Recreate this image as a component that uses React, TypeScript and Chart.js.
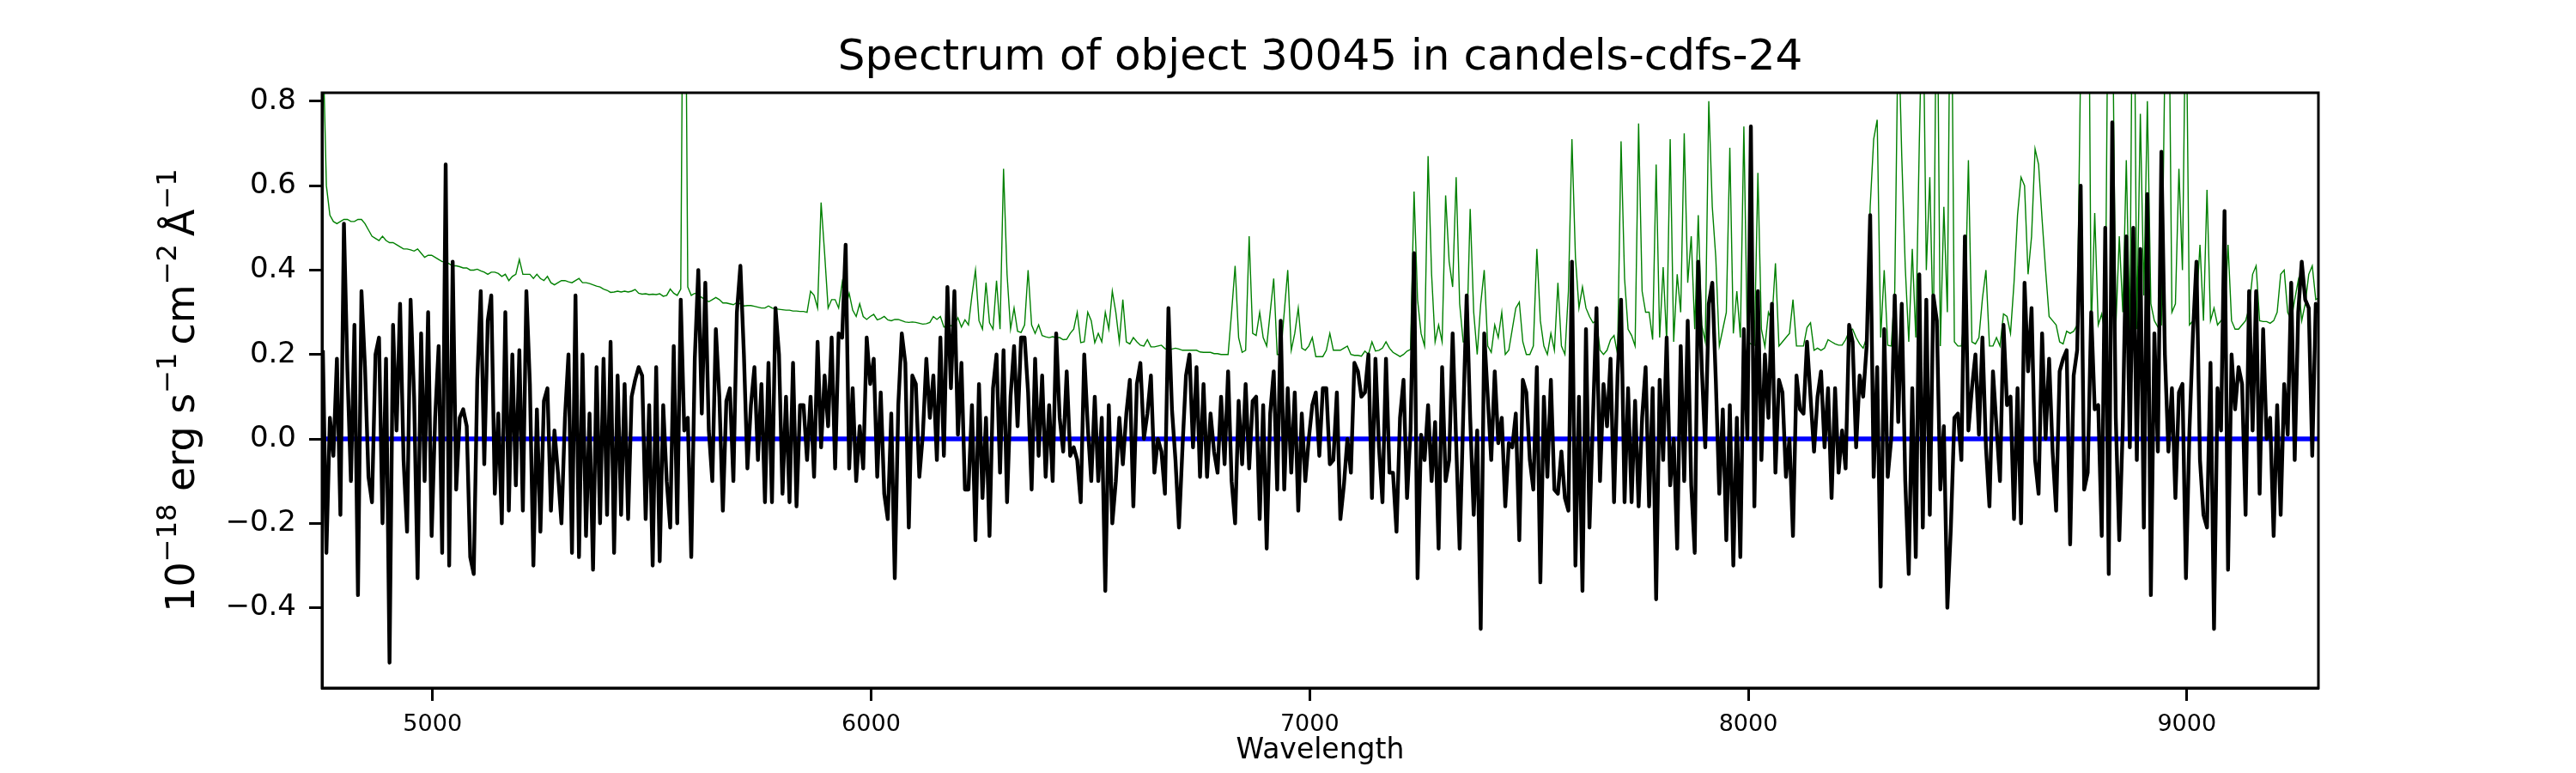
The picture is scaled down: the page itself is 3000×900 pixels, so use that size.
import React, { useEffect, useRef } from "react";
import { Chart, registerables } from "chart.js";

Chart.register(...registerables);

const FONT = "DejaVu Sans";
const TITLE = "Spectrum of object 30045 in candels-cdfs-24";
const X_LABEL = "Wavelength";
// y label pieces: [text, isSuperscript]
const Y_LABEL_PARTS: [string, boolean][] = [
  ["10", false],
  ["\u221218", true],
  [" erg s", false],
  ["\u22121", true],
  ["\u2009cm", false],
  ["\u22122", true],
  ["\u2009Å", false],
  ["\u22121", true],
];
const X_TICKS = [5000, 6000, 7000, 8000, 9000];
const Y_TICKS = [-0.4, -0.2, 0.0, 0.2, 0.4, 0.6, 0.8];
const X_MIN = 4748;
const X_MAX = 9300;
const Y_MIN = -0.59;
const Y_MAX = 0.82;

// uniform wavelength sampling of the spectrum (Angstrom)
const WAVE_START = 4750;
const WAVE_STEP = 8;

// observed flux (black), by wavelength segment
const FLUX_A = [
  0.21, -0.27, 0.05, -0.04, 0.19, -0.18, 0.51, 0.16, -0.10, 0.27,
  -0.37, 0.35, 0.17, -0.09, -0.15, 0.20, 0.24, -0.20, 0.19, -0.53,
  0.27, 0.02, 0.32, -0.05, -0.22, 0.33, 0.10, -0.33, 0.25, -0.10,
  0.30, -0.23, 0.05, 0.22, -0.27, 0.65, -0.30, 0.42, -0.12, 0.05,
  0.07, 0.03, -0.28, -0.32, 0.14, 0.35, -0.06, 0.28, 0.34, -0.13,
  0.06, -0.20, 0.30, -0.17, 0.20, -0.11, 0.21, -0.17, 0.35, 0.13,
  -0.30, 0.07, -0.22, 0.09, 0.12, -0.17, 0.02, -0.08, -0.20, 0.05,
  0.20, -0.27,
];
const FLUX_B = [
  0.34, -0.28, 0.20, -0.23, 0.06, -0.31, 0.17, -0.20,
  0.19, -0.18, 0.23, -0.27, 0.15, -0.18, 0.13, -0.19, 0.10, 0.14,
  0.17, 0.15, -0.19, 0.08, -0.30, 0.17, -0.29, 0.08, -0.10, -0.21,
  0.22, -0.20, 0.33, 0.02, 0.05, -0.28, 0.19, 0.40, 0.06, 0.37,
  0.02, -0.10, 0.26, 0.10, -0.17, 0.09, 0.12, -0.10, 0.30, 0.41,
  0.20, -0.07, 0.08, 0.17, -0.05, 0.13, -0.15, 0.18, -0.15, 0.31,
  0.20, -0.13, 0.10, -0.15, 0.18, -0.16, 0.08, 0.08, -0.05, 0.10,
  -0.09, 0.23, -0.02,
];
const FLUX_C = [
  0.15, 0.03, 0.24, -0.07, 0.25, 0.24, 0.46,
  -0.07, 0.12, -0.10, 0.03, -0.07, 0.24, 0.13, 0.19, -0.09, 0.11,
  -0.13, -0.19, 0.06, -0.33, 0.08, 0.25, 0.18, -0.21, 0.15, 0.13,
  -0.09, 0.01, 0.19, 0.05, 0.15, -0.05, 0.24, -0.04, 0.36, 0.12,
  0.35, 0.01, 0.18, -0.12, -0.12, 0.08, -0.24, 0.13, -0.14, 0.05,
  -0.23, 0.12, 0.20, -0.08, 0.21, -0.15, 0.10, 0.22, 0.03, 0.24,
  0.24, 0.11, -0.12, 0.19, -0.04, 0.15, -0.09, 0.08, -0.10, 0.25,
  0.05, -0.03, 0.16, -0.04,
];
const FLUX_D = [
  -0.02, -0.05, -0.15, 0.20, 0.03, -0.10,
  0.10, -0.10, 0.05, -0.36, 0.08, -0.20, -0.10, 0.05, -0.06, 0.06,
  0.14, -0.16, 0.13, 0.18, 0.00, 0.06, 0.15, -0.08, 0.00, -0.03,
  -0.13, 0.31, 0.07, -0.05, -0.21, -0.02, 0.15, 0.20, -0.02, 0.17,
  -0.09, 0.13, -0.09, 0.06, -0.03, -0.08, 0.10, -0.06, 0.16, -0.10,
  -0.20, 0.09, -0.06, 0.13, -0.07, 0.09, 0.10, -0.19, 0.08, -0.26,
  0.06, 0.16, -0.12, 0.28, -0.12, 0.12, -0.08, 0.11, -0.17, 0.06,
  -0.10, 0.00, 0.08, 0.11, -0.04,
];
const FLUX_E = [
  0.12, 0.12, -0.06, -0.05, 0.11,
  -0.19, -0.11, 0.00, -0.08, 0.18, 0.16, 0.10, 0.11, 0.20, -0.14,
  0.19, -0.02, -0.15, 0.19, -0.08, -0.08, -0.22, 0.05, 0.14, -0.14,
  0.02, 0.44, -0.33, 0.01, -0.05, 0.08, -0.10, 0.04, -0.26, 0.17,
  -0.10, -0.05, 0.25, -0.01, -0.26, 0.05, 0.34, 0.05, -0.18, 0.02,
  -0.45, 0.25, 0.10, -0.05, 0.16, -0.01, 0.05, -0.16, -0.01, -0.02,
  0.06, -0.24, 0.14, 0.11, -0.05, -0.12, 0.17, -0.34, 0.10, -0.09,
  0.14, -0.12, -0.13, -0.03, -0.14, -0.17,
];
const FLUX_F = [
  0.42, -0.30, 0.10, -0.36,
  0.26, -0.21, 0.05, 0.31, -0.10, 0.13, 0.03, 0.19, -0.15, 0.15,
  0.33, -0.15, 0.12, -0.15, 0.09, -0.16, 0.05, 0.17, -0.16, 0.12,
  -0.38, 0.14, -0.05, 0.24, -0.11, 0.00, -0.26, 0.22, -0.10, 0.28,
  -0.11, -0.27, 0.42, 0.17, -0.02, 0.32, 0.37, 0.14, -0.13, 0.07,
  -0.24, 0.08, -0.30, 0.05, -0.28, 0.26, 0.00, 0.74, -0.16, 0.35,
  -0.05, 0.20, 0.05, 0.32, -0.08, 0.14, 0.11, -0.09, 0.00, -0.23,
  0.15, 0.07, 0.06, 0.23, 0.10, -0.03, 0.10,
];
const FLUX_G = [
  0.16, -0.02, 0.12,
  -0.14, 0.12, -0.08, 0.02, -0.07, 0.27, 0.23, -0.02, 0.15, 0.10,
  0.22, 0.53, -0.09, 0.17, -0.35, 0.26, -0.09, 0.00, 0.34, 0.04,
  0.32, -0.10, -0.32, 0.12, -0.28, 0.39, -0.21, 0.33, -0.18, 0.34,
  0.28, -0.12, 0.03, -0.40, -0.21, 0.05, 0.06, -0.05, 0.48, 0.02,
  0.12, 0.20, 0.01, 0.24, -0.02, -0.16, 0.16, 0.03, -0.10, 0.27,
  0.08, 0.10, -0.19, 0.12, -0.20, 0.37, 0.16, 0.31, -0.05, -0.13,
  0.25, 0.00, 0.19, -0.03, -0.17, 0.16, 0.19, 0.21,
];
const FLUX_H = [
  -0.25, 0.15,
  0.21, 0.60, -0.12, -0.08, 0.30, 0.07, 0.08, -0.23, 0.50, -0.32,
  0.75, 0.05, -0.24, 0.03, 0.48, -0.02, 0.50, -0.05, 0.45, -0.21,
  0.58, -0.37, 0.25, -0.03, 0.68, 0.20, -0.03, 0.12, -0.14, 0.11,
  0.13, -0.33, 0.02, 0.25, 0.42, -0.05, -0.18, -0.21, 0.18, -0.45,
  0.12, 0.02, 0.54, -0.31, 0.20, 0.07, 0.17, 0.13, -0.18, 0.35,
  0.02, 0.35, -0.13, 0.26, 0.00, 0.05, -0.23, 0.08, -0.18, 0.13,
  0.01, 0.37, -0.05, 0.30, 0.42, 0.33, 0.31, -0.04, 0.32, 0.30,
];

// noise / sky spectrum (green), same sampling
const SKY_A = [
  0.95, 0.60, 0.53, 0.515, 0.51, 0.515, 0.52, 0.52, 0.515, 0.515,
  0.52, 0.52, 0.51, 0.495, 0.48, 0.475, 0.47, 0.48, 0.47, 0.465,
  0.465, 0.46, 0.455, 0.45, 0.45, 0.448, 0.445, 0.45, 0.44, 0.43,
  0.435, 0.435, 0.43, 0.425, 0.42, 0.42, 0.415, 0.41, 0.41, 0.408,
  0.405, 0.405, 0.40, 0.40, 0.402, 0.398, 0.395, 0.39, 0.395, 0.395,
  0.392, 0.385, 0.39, 0.375, 0.385, 0.39, 0.425, 0.39, 0.39, 0.39,
  0.38, 0.39, 0.38, 0.375, 0.385, 0.37, 0.365, 0.37, 0.375, 0.375,
  0.372, 0.37,
];
const SKY_B = [
  0.375, 0.38, 0.37, 0.37, 0.368, 0.365, 0.362, 0.36,
  0.355, 0.352, 0.347, 0.348, 0.35, 0.348, 0.35, 0.348, 0.35, 0.354,
  0.345, 0.343, 0.344, 0.342, 0.343, 0.342, 0.344, 0.338, 0.34, 0.355,
  0.345, 0.34, 0.355, 1.6, 0.36, 0.34, 0.345, 0.34, 0.335, 0.33,
  0.325, 0.33, 0.335, 0.33, 0.322, 0.322, 0.32, 0.318, 0.323, 0.32,
  0.315, 0.316, 0.316, 0.314, 0.312, 0.31, 0.31, 0.315, 0.31, 0.308,
  0.307, 0.306, 0.305, 0.305, 0.303, 0.303, 0.302, 0.302, 0.30, 0.35,
  0.34, 0.31, 0.56,
];
const SKY_C = [
  0.44, 0.31, 0.33, 0.33, 0.31, 0.37, 0.31,
  0.345, 0.305, 0.29, 0.32, 0.29, 0.283, 0.29, 0.295, 0.282, 0.285,
  0.29, 0.282, 0.28, 0.283, 0.283, 0.28, 0.277, 0.276, 0.277, 0.276,
  0.274, 0.272, 0.273, 0.276, 0.29, 0.283, 0.29, 0.265, 0.266, 0.268,
  0.27, 0.287, 0.265, 0.282, 0.27, 0.34, 0.40, 0.28, 0.26, 0.37,
  0.275, 0.26, 0.375, 0.26, 0.64, 0.39, 0.26, 0.31, 0.255, 0.252,
  0.27, 0.40, 0.27, 0.25, 0.27, 0.245, 0.242, 0.24, 0.242, 0.24,
  0.24, 0.235, 0.236, 0.25,
];
const SKY_D = [
  0.26, 0.30, 0.228, 0.23, 0.30, 0.28,
  0.228, 0.25, 0.23, 0.30, 0.26, 0.35, 0.30, 0.23, 0.33, 0.23,
  0.225, 0.24, 0.23, 0.222, 0.22, 0.235, 0.218, 0.218, 0.22, 0.222,
  0.214, 0.21, 0.213, 0.215, 0.213, 0.21, 0.21, 0.21, 0.21, 0.21,
  0.206, 0.205, 0.205, 0.205, 0.202, 0.202, 0.20, 0.20, 0.20, 0.30,
  0.41, 0.24, 0.205, 0.21, 0.48, 0.25, 0.245, 0.30, 0.24, 0.22,
  0.30, 0.38, 0.20, 0.20, 0.30, 0.40, 0.21, 0.25, 0.31, 0.215,
  0.21, 0.22, 0.24, 0.195, 0.195,
];
const SKY_E = [
  0.195, 0.21, 0.25, 0.21, 0.21,
  0.21, 0.215, 0.22, 0.20, 0.198, 0.198, 0.196, 0.208, 0.20, 0.23,
  0.208, 0.21, 0.215, 0.23, 0.215, 0.205, 0.20, 0.195, 0.20, 0.208,
  0.212, 0.586, 0.33, 0.25, 0.22, 0.67, 0.39, 0.23, 0.27, 0.23,
  0.577, 0.42, 0.36, 0.62, 0.32, 0.23, 0.23, 0.545, 0.30, 0.20,
  0.32, 0.40, 0.22, 0.205, 0.27, 0.24, 0.30, 0.20, 0.21, 0.26,
  0.31, 0.324, 0.23, 0.20, 0.20, 0.22, 0.45, 0.28, 0.22, 0.20,
  0.25, 0.21, 0.37, 0.22, 0.20, 0.35,
];
const SKY_F = [
  0.71, 0.43, 0.31, 0.36,
  0.31, 0.29, 0.275, 0.28, 0.21, 0.20, 0.21, 0.235, 0.245, 0.20,
  0.705, 0.38, 0.26, 0.245, 0.22, 0.747, 0.35, 0.30, 0.30, 0.235,
  0.65, 0.24, 0.407, 0.23, 0.71, 0.23, 0.39, 0.30, 0.724, 0.37,
  0.48, 0.26, 0.53, 0.27, 0.23, 0.80, 0.55, 0.43, 0.22, 0.26,
  0.30, 0.69, 0.25, 0.35, 0.24, 0.74, 0.23, 0.225, 0.222, 0.63,
  0.26, 0.218, 0.30, 0.28, 0.416, 0.22, 0.23, 0.24, 0.25, 0.33,
  0.22, 0.22, 0.22, 0.264, 0.275, 0.21, 0.215,
];
const SKY_G = [
  0.21, 0.215, 0.235,
  0.23, 0.225, 0.222, 0.222, 0.235, 0.255, 0.26, 0.24, 0.225, 0.215,
  0.24, 0.55, 0.71, 0.756, 0.24, 0.40, 0.222, 0.22, 0.35, 1.00,
  0.67, 0.407, 0.23, 0.45, 0.24, 0.70, 1.10, 0.40, 0.62, 0.23,
  1.2, 0.22, 0.55, 0.30, 1.3, 0.23, 0.22, 0.22, 0.30, 0.66,
  0.23, 0.225, 0.24, 0.333, 0.40, 0.22, 0.22, 0.24, 0.22, 0.296,
  0.29, 0.25, 0.37, 0.53, 0.62, 0.60, 0.39, 0.48, 0.687, 0.65,
  0.52, 0.40, 0.29, 0.28, 0.27, 0.23, 0.225, 0.255,
];
const SKY_H = [
  0.25, 0.255,
  0.27, 0.90, 1.2, 1.5, 0.25, 0.535, 0.27, 0.296, 0.245, 1.3,
  1.1, 0.26, 0.48, 0.30, 0.66, 0.25, 1.4, 0.26, 0.77, 0.34,
  0.80, 0.32, 0.28, 0.265, 0.27, 0.9, 1.2, 0.30, 0.32, 0.64,
  0.40, 1.1, 0.27, 0.28, 0.32, 0.46, 0.28, 0.59, 0.28, 0.31,
  0.27, 0.28, 0.285, 0.46, 0.28, 0.26, 0.26, 0.27, 0.28, 0.31,
  0.39, 0.41, 0.28, 0.278, 0.278, 0.274, 0.28, 0.30, 0.39, 0.40,
  0.30, 0.28, 0.33, 0.375, 0.28, 0.32, 0.39, 0.41, 0.33, 0.335,
];

// model (blue) : flat zero level across the range
const MODEL_WAVE = [4748, 9300];
const MODEL_FLUX = [0, 0];

const FLUX = [...FLUX_A, ...FLUX_B, ...FLUX_C, ...FLUX_D, ...FLUX_E, ...FLUX_F, ...FLUX_G, ...FLUX_H];
const SKY = [...SKY_A, ...SKY_B, ...SKY_C, ...SKY_D, ...SKY_E, ...SKY_F, ...SKY_G, ...SKY_H];

const toPoints = (vals: number[]) => vals.map((y, i) => ({ x: WAVE_START + i * WAVE_STEP, y }));

const fmtY = (v: number) => {
  const s = Math.abs(v) < 1e-9 ? "0.0" : v.toFixed(1);
  return s.replace("-", "\u2212");
};

const MAIN_SIZE = 46;
const SUP_SIZE = 32;

const framePlugin = {
  id: "frame",
  afterDatasetsDraw(chart: any) {
    const { ctx, chartArea } = chart;
    ctx.save();
    ctx.strokeStyle = "#000";
    ctx.lineWidth = 3;
    ctx.strokeRect(chartArea.left, chartArea.top, chartArea.right - chartArea.left, chartArea.bottom - chartArea.top);
    ctx.restore();
  },
};

// y-axis label with real superscripts (mathtext-like), placed relative to the y scale
const yLabelPlugin = {
  id: "ylabel",
  afterDraw(chart: any) {
    const { ctx, chartArea } = chart;
    const yScale = chart.scales.y;
    const baseX = yScale.left + 226;
    const midY = (chartArea.top + chartArea.bottom) / 2;
    ctx.save();
    ctx.fillStyle = "#000";
    ctx.textBaseline = "alphabetic";
    ctx.textAlign = "left";
    const mainFont = `${MAIN_SIZE}px "${FONT}"`;
    const supFont = `${SUP_SIZE}px "${FONT}"`;
    let total = 0;
    const widths = Y_LABEL_PARTS.map(([t, sup]) => {
      ctx.font = sup ? supFont : mainFont;
      const w = ctx.measureText(t).width;
      total += w;
      return w;
    });
    ctx.translate(baseX, midY);
    ctx.rotate(-Math.PI / 2);
    let x = -total / 2;
    Y_LABEL_PARTS.forEach(([t, sup], i) => {
      ctx.font = sup ? supFont : mainFont;
      ctx.fillText(t, x, sup ? -21 : 0);
      x += widths[i];
    });
    ctx.restore();
  },
};

export default function App() {
  const ref = useRef<HTMLCanvasElement | null>(null);

  useEffect(() => {
    document.body.style.margin = "0";
    document.body.style.overflow = "hidden";
    if (!ref.current) return;
    Chart.defaults.font.family = FONT;
    const chart = new Chart(ref.current, {
      type: "line",
      data: {
        datasets: [
          {
            label: "flux",
            data: toPoints(FLUX),
            borderColor: "#000000",
            borderWidth: 4.4,
            pointRadius: 0,
            tension: 0,
            fill: false,
            borderJoinStyle: "round",
            clip: 0,
          },
          {
            label: "model",
            data: MODEL_FLUX.map((y, i) => ({ x: MODEL_WAVE[i], y })),
            borderColor: "#0000ff",
            borderWidth: 5.5,
            pointRadius: 0,
            fill: false,
            clip: 0,
          },
          {
            label: "sky",
            data: toPoints(SKY),
            borderColor: "#008000",
            borderWidth: 1.4,
            pointRadius: 0,
            tension: 0,
            fill: false,
            clip: 0,
          },
        ],
      },
      options: {
        animation: false,
        responsive: true,
        maintainAspectRatio: false,
        devicePixelRatio: 1,
        layout: { padding: { left: 0, right: 300, top: 0, bottom: 0 } },
        plugins: {
          legend: { display: false },
          tooltip: { enabled: false },
          title: {
            display: true,
            text: TITLE,
            color: "#000",
            fullSize: false,
            font: { size: 50, weight: "normal", family: FONT },
            padding: { top: 38, bottom: 10 },
          },
        },
        scales: {
          x: {
            type: "linear",
            min: X_MIN,
            max: X_MAX,
            afterFit: (s: any) => { s.height = 99; },
            afterBuildTicks: (s: any) => { s.ticks = X_TICKS.map((v) => ({ value: v })); },
            ticks: {
              color: "#000",
              font: { size: 27, family: FONT },
              padding: 12,
              autoSkip: false,
              maxRotation: 0,
              callback: (v: any) => String(v),
            },
            grid: { drawOnChartArea: false, drawTicks: true, tickLength: 15, tickWidth: 3, tickColor: "#000" },
            border: { display: true, color: "#000", width: 3 },
            title: { display: true, text: X_LABEL, color: "#000", font: { size: 33, family: FONT }, padding: { top: 0, bottom: 6 } },
          },
          y: {
            type: "linear",
            min: Y_MIN,
            max: Y_MAX,
            afterFit: (s: any) => { s.width = 375; },
            afterBuildTicks: (s: any) => { s.ticks = Y_TICKS.map((v) => ({ value: v })); },
            ticks: {
              color: "#000",
              font: { size: 34, family: FONT },
              padding: 15,
              autoSkip: false,
              callback: (v: any) => fmtY(Number(v)),
            },
            grid: { drawOnChartArea: false, drawTicks: true, tickLength: 15, tickWidth: 3, tickColor: "#000" },
            border: { display: true, color: "#000", width: 3 },
            title: { display: false },
          },
        },
      },
      plugins: [framePlugin, yLabelPlugin],
    });
    return () => chart.destroy();
  }, []);

  return (
    <div style={{ width: 3000, height: 900, position: "relative", background: "#fff" }}>
      <canvas ref={ref} />
    </div>
  );
}
